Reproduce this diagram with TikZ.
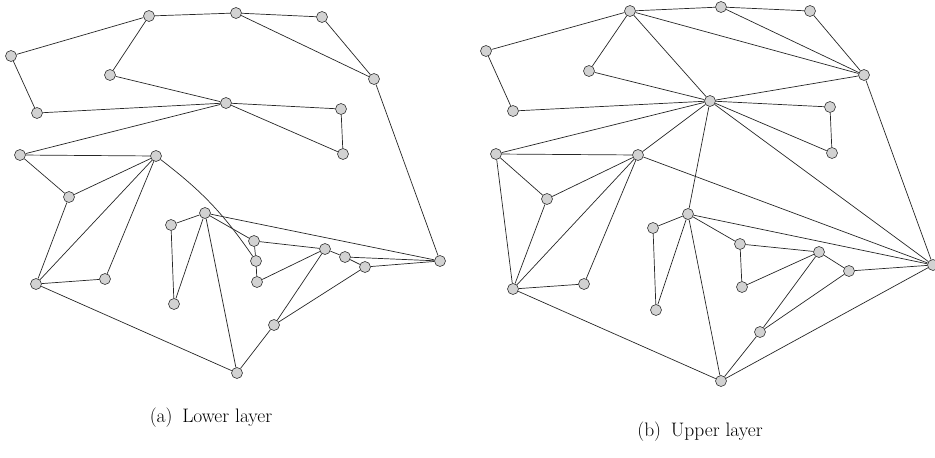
\documentclass[tikz,border=0pt]{standalone}
\usepackage{tikz}
\usetikzlibrary{positioning}

\begin{document}
\begin{tikzpicture}[x=1pt, y=-1pt,
  vtx/.style={circle, draw=black!80, line width=0.6pt, fill=gray!35, inner sep=0pt, minimum size=11pt},
  link/.style={draw=black!85, line width=0.7pt},
  captext/.style={font=\fontsize{19.5}{23}\selectfont}]
\useasboundingbox (0,0) rectangle (935,458);

% Left graph: lower layer
\begin{scope}
\foreach \n/\x/\y in {L1/149/16, L2/11/56, L3/110/75, L4/37/113, L5/226/103, L6/20/155,
    L7/156/156, L8/236/13, L9/322/17, L10/374/79, L11/341/109, L12/343/154,
    L13/69/197, L14/36/284, L15/105/279, L16/171/225, L17/205/213, L18/174/304,
    L19/237/373, L20/254/241, L21/256/261, L22/257/282, L23/325/249, L24/345/257,
    L25/365/267, L26/440/261, L27/274/325} {
    \node[vtx] (\n) at (\x,\y) {};
}

% Edges
\foreach \a/\b in {L2/L1, L1/L8, L1/L3, L3/L5, L2/L4, L4/L5, L5/L6, L5/L11, L5/L12,
    L11/L12, L8/L9, L8/L10, L9/L10, L10/L26, L6/L7, L6/L13, L7/L13, L7/L14, L7/L15,
    L13/L14, L14/L15, L14/L19, L16/L17, L16/L18, L17/L18, L17/L19, L17/L20, L17/L26,
    L20/L21, L21/L22, L20/L23, L22/L23, L23/L24, L24/L25, L24/L26, L25/L26,
    L23/L27, L25/L27, L27/L19} {
    \draw[link] (\a) -- (\b);
}
\draw[link] (L7) to[bend left=9] (L21);

\node[captext] (capA) at (211,418) {(a)\enspace Lower layer};
\end{scope}

% Right graph: upper layer
\begin{scope}
\foreach \n/\x/\y in {U1/630/11, U2/486/51, U3/589/71, U4/513/111, U5/710/101,
    U6/496/154, U7/638/155, U8/721/7, U9/810/11, U10/864/75, U11/830/107,
    U12/832/153, U13/547/199, U14/513/289, U15/584/284, U16/653/228, U17/688/214,
    U18/656/310, U19/721/381, U20/740/244, U21/742/287, U22/819/252, U23/849/271,
    U24/933/265, U25/760/332} {
    \node[vtx] (\n) at (\x,\y) {};
}

% Edges
\foreach \a/\b in {U2/U1, U1/U8, U1/U3, U1/U5, U1/U10, U8/U9, U8/U10, U9/U10,
    U3/U5, U2/U4, U4/U5, U5/U6, U5/U7, U5/U10, U5/U11, U5/U12, U11/U12, U5/U24,
    U5/U17, U10/U24, U6/U7, U6/U13, U7/U13, U6/U14, U13/U14, U7/U14, U7/U15,
    U14/U15, U14/U19, U7/U24, U16/U17, U16/U18, U17/U18, U17/U20, U17/U24,
    U17/U19, U20/U21, U20/U22, U21/U22, U22/U23, U23/U24, U22/U25, U23/U25,
    U25/U19, U19/U24} {
    \draw[link] (\a) -- (\b);
}

\node[captext] (capB) at (700,432) {(b)\enspace Upper layer};
\end{scope}

\end{tikzpicture}
\end{document}
